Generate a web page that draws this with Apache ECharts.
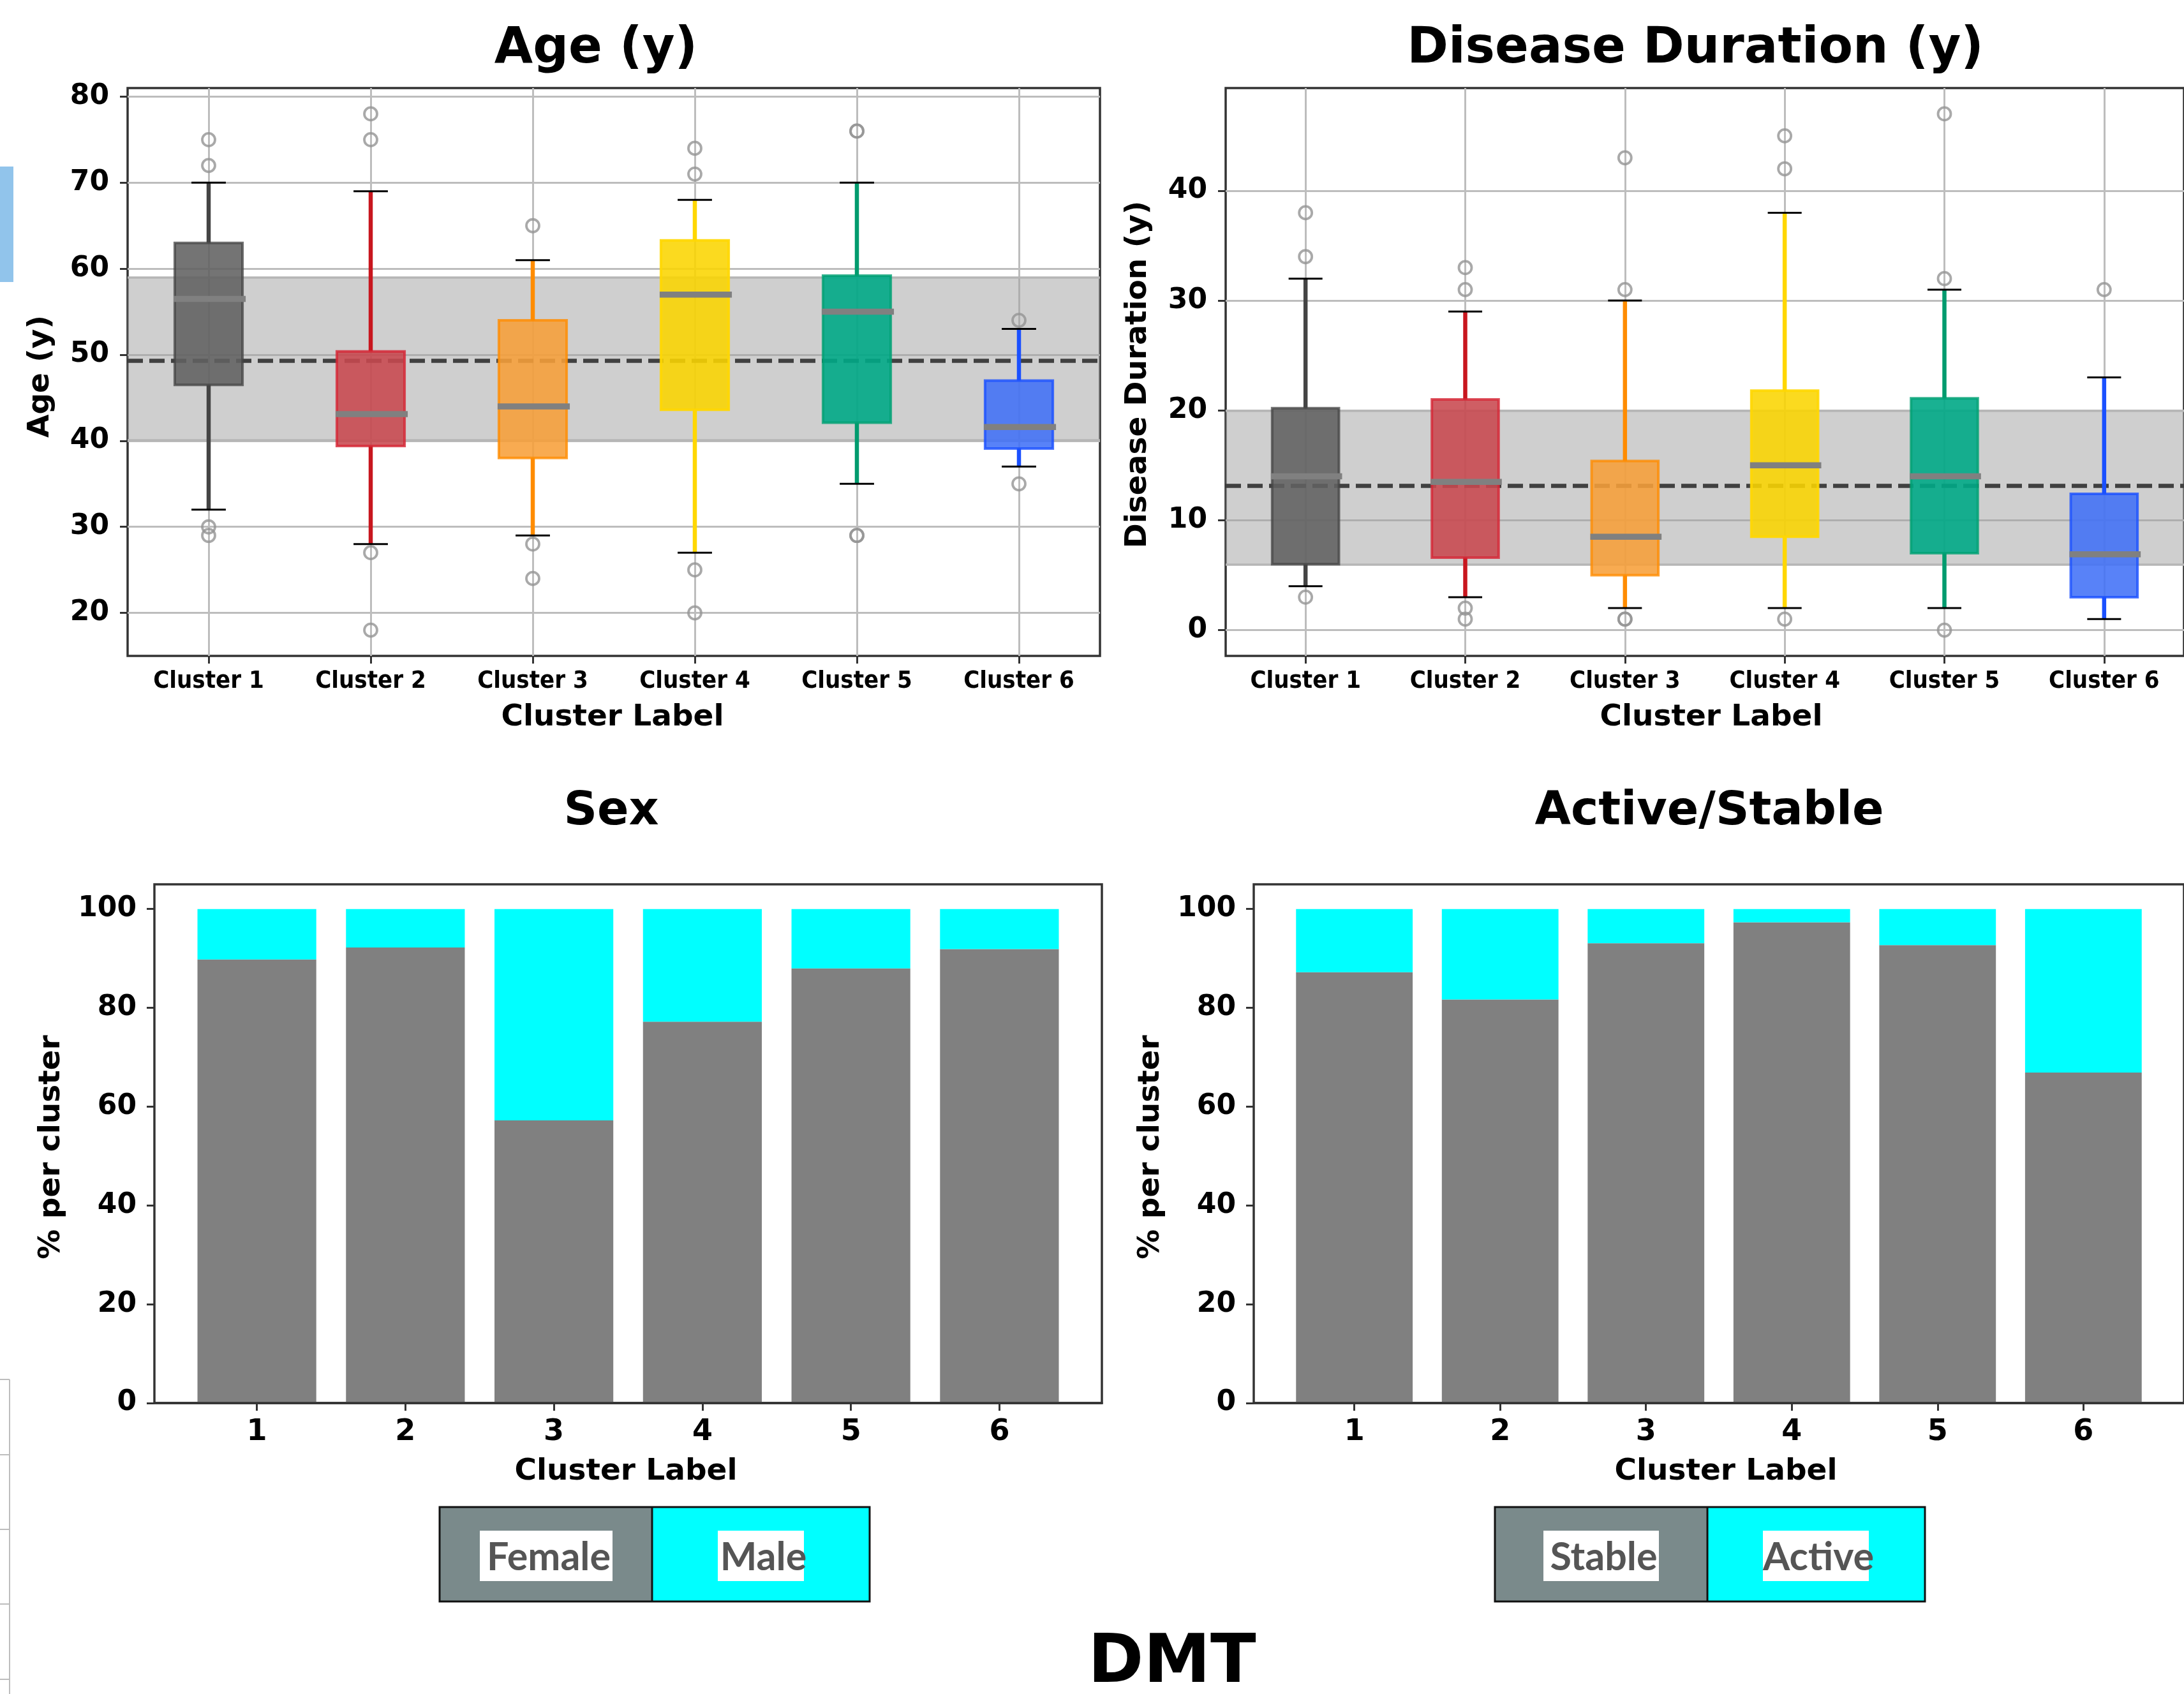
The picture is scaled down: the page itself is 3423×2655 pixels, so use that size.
<!DOCTYPE html>
<html>
<head>
<meta charset="utf-8">
<title>DMT clusters</title>
<script src="https://cdn.jsdelivr.net/npm/echarts@6.0.0/dist/echarts.min.js"></script>
<style>
  html, body { margin: 0; padding: 0; background: #fff; }
  #chart { width: 3423px; height: 2655px; }
</style>
</head>
<body>
<div id="chart"></div>
<script>
// ---- data ----
const clusterNames = ['Cluster 1', 'Cluster 2', 'Cluster 3', 'Cluster 4', 'Cluster 5', 'Cluster 6']
const barLabels = ['1', '2', '3', '4', '5', '6']
const ageTicks = [20, 30, 40, 50, 60, 70, 80]
const durTicks = [0, 10, 20, 30, 40]
const pctTicks = [0, 20, 40, 60, 80, 100]

// box stats: [low whisker, Q1, median, Q3, high whisker]
const ageBoxes = [
  [32, 46.5, 56.5, 63.0, 70],
  [28, 39.4, 43.1, 50.4, 69],
  [29, 38.0, 44.0, 54.0, 61],
  [27, 43.6, 57.0, 63.3, 68],
  [35, 42.1, 55.0, 59.2, 70],
  [37, 39.1, 41.6, 47.0, 53]
]
const ageOutliers = [[75, 72, 30, 29], [78, 75, 27, 18], [65, 28, 24], [74, 71, 25, 20], [76, 76, 29, 29], [54, 35]]
const ageMean = 49.3
const ageBand = [40.1, 59.0]

const durBoxes = [
  [4, 6.0, 14.0, 20.2, 32],
  [3, 6.6, 13.5, 21.0, 29],
  [2, 5.0, 8.5, 15.4, 30],
  [2, 8.5, 15.0, 21.8, 38],
  [2, 7.0, 14.0, 21.1, 31],
  [1, 3.0, 6.9, 12.4, 23]
]
const durOutliers = [[38, 34, 3], [33, 31, 2, 1], [43, 31, 1, 1], [45, 42, 1], [47, 32, 0], [31]]
const durMean = 13.15
const durBand = [5.97, 20.0]

// % per cluster
const female = [89.8, 92.2, 57.2, 77.2, 88.0, 91.9]
const male = [10.2, 7.8, 42.8, 22.8, 12.0, 8.1]
const stable = [87.2, 81.7, 93.1, 97.3, 92.7, 66.9]
const active = [12.8, 18.3, 6.9, 2.7, 7.3, 33.1]

// ---- styles ----
const boxColors = [
  { fill: 'rgba(97,97,97,0.88)', edge: 'rgba(68,68,68,0.75)', whisker: '#444444' },
  { fill: 'rgba(200,72,78,0.88)', edge: 'rgba(214,38,52,0.8)', whisker: '#c8161e' },
  { fill: 'rgba(247,159,57,0.88)', edge: 'rgba(255,140,0,0.8)', whisker: '#ff8c00' },
  { fill: 'rgba(250,213,0,0.88)', edge: 'rgba(255,215,0,0.9)', whisker: '#ffd700' },
  { fill: 'rgba(0,168,134,0.9)', edge: 'rgba(0,160,115,0.8)', whisker: '#009b6e' },
  { fill: 'rgba(65,113,247,0.88)', edge: 'rgba(26,80,255,0.8)', whisker: '#1a50ff' }
]
const greyBar = '#808080'
const cyanBar = '#00ffff'
const tickFont = 'DejaVu Sans'
const idx = clusterNames.map((_, i) => i)

const myChart = echarts.init(document.getElementById('chart'), null, { renderer: 'canvas' })

// box + whiskers + caps + median, drawn through the axes
const renderBox = (params, api) => {
  const c = boxColors[params.dataIndex]
  const i = api.value(0)
  const lo = api.coord([i, api.value(1)])
  const q1 = api.coord([i, api.value(2)])
  const med = api.coord([i, api.value(3)])
  const q3 = api.coord([i, api.value(4)])
  const hi = api.coord([i, api.value(5)])
  const half = api.size([0.209, 0])[0]
  const cap = api.size([0.106, 0])[0]
  const x = lo[0]
  return {
    type: 'group',
    children: [
      { type: 'line', shape: { x1: x, y1: lo[1], x2: x, y2: q1[1] }, style: { stroke: c.whisker, lineWidth: 6.5 } },
      { type: 'line', shape: { x1: x, y1: q3[1], x2: x, y2: hi[1] }, style: { stroke: c.whisker, lineWidth: 6.5 } },
      {
        type: 'rect',
        shape: { x: x - half, y: q3[1], width: half * 2, height: q1[1] - q3[1] },
        style: { fill: c.fill, stroke: c.edge, lineWidth: 4 }
      },
      { type: 'line', shape: { x1: x - half - 2, y1: med[1], x2: x + half + 5, y2: med[1] }, style: { stroke: '#808080', lineWidth: 9.5 } },
      { type: 'line', shape: { x1: x - cap, y1: lo[1], x2: x + cap, y2: lo[1] }, style: { stroke: '#000', lineWidth: 3 } },
      { type: 'line', shape: { x1: x - cap, y1: hi[1], x2: x + cap, y2: hi[1] }, style: { stroke: '#000', lineWidth: 3 } }
    ]
  }
}

// stacked bar segment from value(1) up by value(2)
const renderSeg = (color) => (params, api) => {
  const i = api.value(0)
  const p0 = api.coord([i - 0.4, api.value(1)])
  const p1 = api.coord([i + 0.4, api.value(1) + api.value(2)])
  return {
    type: 'rect',
    shape: { x: p0[0], y: p1[1], width: p1[0] - p0[0], height: p0[1] - p1[1] },
    style: { fill: color }
  }
}

const frameGrid = (left, top, width, height) => ({
  left, top, width, height,
  show: true,
  borderColor: '#333',
  borderWidth: 3.5,
  backgroundColor: 'rgba(0,0,0,0)'
})

const boxXAxis = (gridIndex) => ({
  gridIndex,
  type: 'value',
  min: -0.5,
  max: 5.5,
  axisLine: { show: false, onZero: false },
  axisTick: { show: true, length: 12, customValues: idx, lineStyle: { color: '#333', width: 3 } },
  axisLabel: {
    customValues: idx,
    formatter: (v) => clusterNames[Math.round(v)],
    margin: 21,
    fontFamily: '"DejaVu Sans Condensed", "DejaVu Sans"',
    fontWeight: 'bold',
    fontSize: 38,
    color: '#000'
  },
  splitLine: { show: true, lineStyle: { color: '#bdbdbd', width: 3 } }
})

// y tick labels sit a few px low in the figure, padding nudges them down
const boxYAxis = (gridIndex, min, max, ticks) => ({
  gridIndex,
  type: 'value',
  min, max,
  axisLine: { show: false, onZero: false },
  axisTick: { show: true, length: 12, customValues: ticks, lineStyle: { color: '#333', width: 3 } },
  axisLabel: {
    customValues: ticks,
    margin: 29,
    padding: [12, 0, 0, 0],
    fontFamily: tickFont,
    fontWeight: 'bold',
    fontSize: 44,
    color: '#000'
  },
  splitLine: { show: true, lineStyle: { color: '#bdbdbd', width: 3 } }
})

const barXAxis = (gridIndex) => ({
  gridIndex,
  type: 'value',
  min: -0.69,
  max: 5.69,
  z: 10,
  axisLine: { show: true, onZero: false, lineStyle: { color: '#333', width: 3.5 } },
  axisTick: { show: true, length: 12, customValues: idx, lineStyle: { color: '#333', width: 3 } },
  axisLabel: {
    customValues: idx,
    formatter: (v) => barLabels[Math.round(v)],
    margin: 23,
    fontFamily: tickFont,
    fontWeight: 'bold',
    fontSize: 46,
    color: '#000'
  },
  splitLine: { show: false }
})

const barYAxis = (gridIndex) => ({
  gridIndex,
  type: 'value',
  min: 0,
  max: 105,
  axisLine: { show: false, onZero: false },
  axisTick: { show: true, length: 12, customValues: pctTicks, lineStyle: { color: '#333', width: 3 } },
  axisLabel: {
    customValues: pctTicks,
    margin: 28,
    padding: [12, 0, 0, 0],
    fontFamily: tickFont,
    fontWeight: 'bold',
    fontSize: 44,
    color: '#000'
  },
  splitLine: { show: false }
})

// mean line + shaded band (under the boxes)
const refSeries = (k, mean, band) => ({
  type: 'line',
  xAxisIndex: k,
  yAxisIndex: k,
  data: [],
  z: 1,
  silent: true,
  markArea: {
    silent: true,
    itemStyle: { color: 'rgba(160,160,160,0.5)' },
    data: [[{ yAxis: band[0] }, { yAxis: band[1] }]]
  },
  markLine: {
    silent: true,
    symbol: 'none',
    label: { show: false },
    data: [
      { yAxis: band[0], lineStyle: { type: 'solid', color: '#b6b6b6', width: 3.5 } },
      { yAxis: band[1], lineStyle: { type: 'solid', color: '#b6b6b6', width: 3.5 } },
      { yAxis: mean, lineStyle: { type: [24, 10], color: '#404040', width: 6.5 } }
    ]
  }
})

const boxSeries = (k, boxes) => ({
  type: 'custom',
  xAxisIndex: k,
  yAxisIndex: k,
  z: 10,
  renderItem: renderBox,
  encode: { x: 0, y: [1, 2, 3, 4, 5] },
  data: boxes.map((b, i) => [i, ...b])
})

const outlierSeries = (k, outs) => {
  const pts = []
  outs.forEach((list, i) => list.forEach((v) => pts.push([i, v])))
  return {
    type: 'scatter',
    xAxisIndex: k,
    yAxisIndex: k,
    z: 11,
    symbol: 'circle',
    symbolSize: 20,
    itemStyle: { color: 'rgba(0,0,0,0)', borderColor: '#939393', borderWidth: 3.8 },
    data: pts
  }
}

const segSeries = (k, base, top, color) => ({
  type: 'custom',
  xAxisIndex: k,
  yAxisIndex: k,
  z: 2,
  renderItem: renderSeg(color),
  encode: { x: 0, y: [1, 2] },
  data: top.map((v, i) => [i, base ? base[i] : 0, v])
})

// ---- text & legend graphics ----
const txt = (text, x, y, size, rot) => ({
  type: 'text',
  x, y,
  rotation: rot || 0,
  style: { text, font: 'bold ' + size + 'px "DejaVu Sans"', fill: '#000', align: 'center', verticalAlign: 'middle' }
})

const legend = (x0, xm, x1, y0, y1, labels, boxes) => {
  const els = [
    { type: 'rect', shape: { x: x0, y: y0, width: xm - x0, height: y1 - y0 }, style: { fill: '#7a8a8b' } },
    { type: 'rect', shape: { x: xm, y: y0, width: x1 - xm, height: y1 - y0 }, style: { fill: cyanBar } },
    { type: 'rect', shape: { x: x0, y: y0, width: x1 - x0, height: y1 - y0 }, style: { fill: 'none', stroke: '#111', lineWidth: 3 } },
    { type: 'line', shape: { x1: xm, y1: y0, x2: xm, y2: y1 }, style: { stroke: '#111', lineWidth: 3 } }
  ]
  labels.forEach((t, j) => {
    const b = boxes[j]
    els.push({ type: 'rect', shape: { x: b[0], y: 2399, width: b[1] - b[0], height: 79 }, style: { fill: '#fff' } })
    els.push({
      type: 'text',
      x: (b[0] + b[1]) / 2 + 4,
      y: 2441,
      style: { text: t, font: 'bold 61px Lato', fill: '#555555', align: 'center', verticalAlign: 'middle' }
    })
  })
  return els
}

const graphics = [
  // bits of the neighbouring slide
  { type: 'rect', shape: { x: 0, y: 261, width: 21, height: 181 }, style: { fill: '#91c4eb' } },
  { type: 'line', shape: { x1: 15, y1: 2162, x2: 15, y2: 2655 }, style: { stroke: '#bdbdbd', lineWidth: 2 } },
  ...[2162, 2280, 2397, 2514, 2632].map((y) => ({ type: 'line', shape: { x1: 0, y1: y, x2: 15, y2: y }, style: { stroke: '#bdbdbd', lineWidth: 2 } })),

  txt('Age (y)', 934, 78, 78),
  txt('Disease Duration (y)', 2657, 78, 78),
  txt('Sex', 958, 1273, 73),
  txt('Active/Stable', 2679, 1273, 73),
  txt('Cluster Label', 960, 1125, 47),
  txt('Cluster Label', 2682, 1125, 47),
  txt('Cluster Label', 981, 2307, 47),
  txt('Cluster Label', 2705, 2307, 47),
  txt('Age (y)', 64, 590, 47, Math.PI / 2),
  txt('Disease Duration (y)', 1784, 587, 47, Math.PI / 2),
  txt('% per cluster', 81, 1798, 47, Math.PI / 2),
  txt('% per cluster', 1804, 1798, 47, Math.PI / 2),
  ...legend(689, 1022, 1363, 2362, 2510, ['Female', 'Male'], [[752, 960], [1125, 1260]]),
  ...legend(2343, 2676, 3017, 2362, 2510, ['Stable', 'Active'], [[2419, 2600], [2763, 2929]]),
  txt('DMT', 1837, 2609, 105)
]

const option = {
  animation: false,
  backgroundColor: '#fff',
  grid: [
    frameGrid(200, 138, 1524, 890),
    frameGrid(1921, 138, 1522, 890),
    frameGrid(242, 1386, 1485, 813),
    frameGrid(1965, 1386, 1482, 813)
  ],
  xAxis: [boxXAxis(0), boxXAxis(1), barXAxis(2), barXAxis(3)],
  yAxis: [
    boxYAxis(0, 15, 81, ageTicks),
    boxYAxis(1, -2.35, 49.35, durTicks),
    barYAxis(2),
    barYAxis(3)
  ],
  series: [
    refSeries(0, ageMean, ageBand),
    boxSeries(0, ageBoxes),
    outlierSeries(0, ageOutliers),
    refSeries(1, durMean, durBand),
    boxSeries(1, durBoxes),
    outlierSeries(1, durOutliers),
    segSeries(2, null, female, greyBar),
    segSeries(2, female, male, cyanBar),
    segSeries(3, null, stable, greyBar),
    segSeries(3, stable, active, cyanBar)
  ],
  graphic: graphics
}
myChart.setOption(option)
</script>
</body>
</html>
